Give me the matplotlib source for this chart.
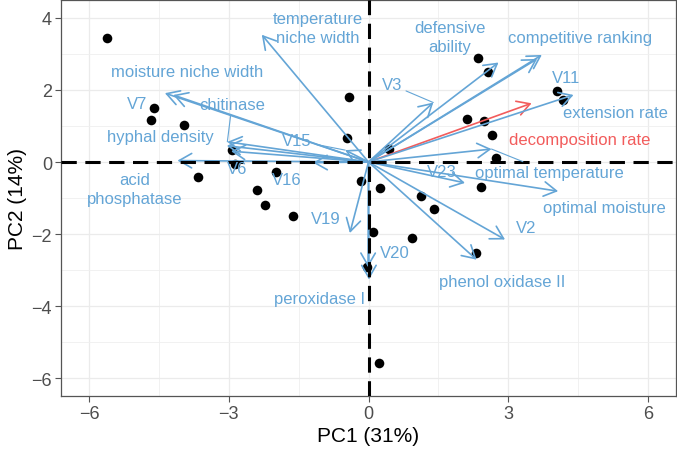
import numpy as np
import matplotlib
matplotlib.use('Agg')
import matplotlib.pyplot as plt

plt.rcParams['font.family'] = ['Liberation Sans', 'DejaVu Sans']

# sample scores (PC1, PC2)
pc1 = [-5.61, -4.60, -4.67, -3.96, -3.66, -2.39, -2.22, -1.98, -1.62, -0.42,
       -0.46, -0.16, 0.25, 0.45, 0.10, -0.04, 0.94, 1.13, 1.41, 2.12,
       2.48, 2.64, 2.74, 2.42, 2.36, 2.56, 4.04, 4.17, 2.30, 0.23,
       -2.94, -2.86]
pc2 = [3.44, 1.50, 1.17, 1.03, -0.41, -0.77, -1.18, -0.27, -1.49, 1.81,
       0.67, -0.52, -0.71, 0.36, -1.95, -2.92, -2.11, -0.95, -1.30, 1.19,
       1.14, 0.74, 0.11, -0.68, 2.88, 2.51, 1.96, 1.73, -2.52, -5.57,
       0.34, -0.06]

# loadings (arrow tips) and where their labels sit
var_names = ['temperature\nniche width', 'moisture niche width', 'V7', 'chitinase',
             'hyphal density', 'V6', 'acid\nphosphatase', 'V15', 'V16', 'V19',
             'V20', 'peroxidase I', 'phenol oxidase II', 'V2', 'optimal moisture',
             'V23', 'optimal temperature', 'decomposition rate', 'extension rate',
             'V11', 'competitive ranking', 'defensive\nability', 'V3']
load_x = [-2.29, -4.37, -4.19, -3.03, -3.04, -2.95, -4.10, -0.50, -1.19, -0.40,
          -0.01, 0.01, 2.32, 2.93, 4.07, 2.07, 2.64, 3.50, 4.40, 3.62,
          3.72, 2.79, 1.39]
load_y = [3.53, 1.91, 1.86, 0.56, 0.45, 0.30, 0.04, 0.33, -0.02, -1.97,
          -2.92, -3.26, -2.71, -2.15, -0.81, -0.58, 0.36, 1.63, 1.86, 2.86,
          2.97, 2.76, 1.65]
lab_x = [-1.08, -3.90, -4.97, -2.93, -4.47, -2.83, -5.01, -1.53, -1.76, -0.91,
         0.57, -1.04, 2.88, 3.39, 5.07, 1.57, 3.89, 4.54, 5.29, 4.24,
         4.55, 1.75, 0.50]
lab_y = [3.72, 2.50, 1.62, 1.59, 0.70, -0.19, -0.74, 0.59, -0.49, -1.57,
         -2.52, -3.79, -3.31, -1.83, -1.27, -0.26, -0.29, 0.62, 1.37, 2.35,
         3.46, 3.47, 2.14]
highlight = 'decomposition rate'
leader = ['chitinase', 'V15', 'optimal temperature', 'V3']

blue = '#64A5D6'
red = '#F25C5C'

fig = plt.figure(figsize=(6.77, 4.52), dpi=100)
ax = fig.add_axes([61 / 677, 1 - 397.3 / 452, 615 / 677, 396.5 / 452])

ax.set_xlim(-6.6, 6.6)
ax.set_ylim(-6.5, 4.5)
ax.set_xticks([-6, -3, 0, 3, 6])
ax.set_yticks([-6, -4, -2, 0, 2, 4])
ax.set_xticks([-4.5, -1.5, 1.5, 4.5], minor=True)
ax.set_yticks([-5, -3, -1, 1, 3], minor=True)
ax.grid(True, which='major', color='#EBEBEB', lw=0.9, zorder=0)
ax.grid(True, which='minor', color='#EFEFEF', lw=0.6, zorder=0)
ax.set_axisbelow(True)
ax.tick_params(which='minor', length=0)
ax.tick_params(which='major', length=4, width=0.8, color='#555555',
               labelsize=13, labelcolor='#4D4D4D', pad=2.5)
for s in ax.spines.values():
    s.set_color('#555555')
    s.set_linewidth(0.9)

ax.scatter(pc1, pc2, s=48, color='black', zorder=3, linewidths=0)

for name, x, y, tx, ty in zip(var_names, load_x, load_y, lab_x, lab_y):
    col = red if name == highlight else blue
    ax.annotate('', xy=(x, y), xytext=(0, 0),
                arrowprops=dict(arrowstyle='->,head_length=0.9,head_width=0.52',
                                color=col, lw=1.2, shrinkA=0, shrinkB=0),
                zorder=4)
    if name in leader:
        ax.annotate(name, xy=(x, y), xytext=(tx, ty), ha='center', va='center',
                    fontsize=12, color=col, linespacing=1.35,
                    arrowprops=dict(arrowstyle='-', color=col, lw=0.8,
                                    shrinkA=1, shrinkB=0), zorder=6)
    else:
        ax.text(tx, ty, name, ha='center', va='center', fontsize=12, color=col,
                linespacing=1.35, zorder=6)

ax.axhline(0, color='black', lw=2.2, ls=(0, (5, 2.8)), zorder=5)
ax.axvline(0, color='black', lw=2.2, ls=(0, (5, 2.8)), zorder=5)

ax.set_xlabel('PC1 (31%)', fontsize=15, labelpad=3)
ax.set_ylabel('PC2 (14%)', fontsize=15, labelpad=3)

fig.savefig('out.png', dpi=100)
